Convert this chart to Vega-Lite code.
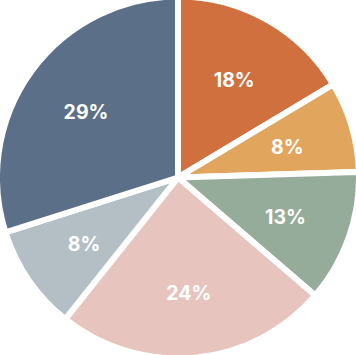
{
  "$schema": "https://vega.github.io/schema/vega-lite/v6.json",
  "width": 356,
  "height": 355,
  "autosize": {"type": "fit", "contains": "padding"},
  "padding": 0,
  "background": "white",
  "view": {"stroke": null},
  "data": {
    "values": [
      {"k": 1, "category": "A", "value": 16.4, "label": "18%"},
      {"k": 2, "category": "B", "value": 8.1, "label": "8%"},
      {"k": 3, "category": "C", "value": 11.8, "label": "13%"},
      {"k": 4, "category": "D", "value": 24.4, "label": "24%"},
      {"k": 5, "category": "E", "value": 9.4, "label": "8%"},
      {"k": 6, "category": "F", "value": 29.9, "label": "29%"}
    ]
  },
  "encoding": {
    "theta": {"field": "value", "type": "quantitative", "stack": true},
    "order": {"field": "k", "type": "quantitative"},
    "color": {
      "field": "category",
      "type": "nominal",
      "scale": {
        "domain": ["A", "B", "C", "D", "E", "F"],
        "range": ["#D0703F", "#E1A55D", "#95AC9A", "#E7C5BE", "#B4BFC5", "#5C6F88"]
      },
      "legend": null
    }
  },
  "layer": [
    {"mark": {"type": "arc", "outerRadius": 181, "stroke": "white", "strokeWidth": 6}},
    {
      "mark": {"type": "text", "radius": 114, "dy": 3, "font": "Inter", "fontWeight": "bold", "fontSize": 19.5, "fill": "white"},
      "encoding": {
        "text": {"field": "label"},
        "color": {"value": "white"}
      }
    }
  ]
}
